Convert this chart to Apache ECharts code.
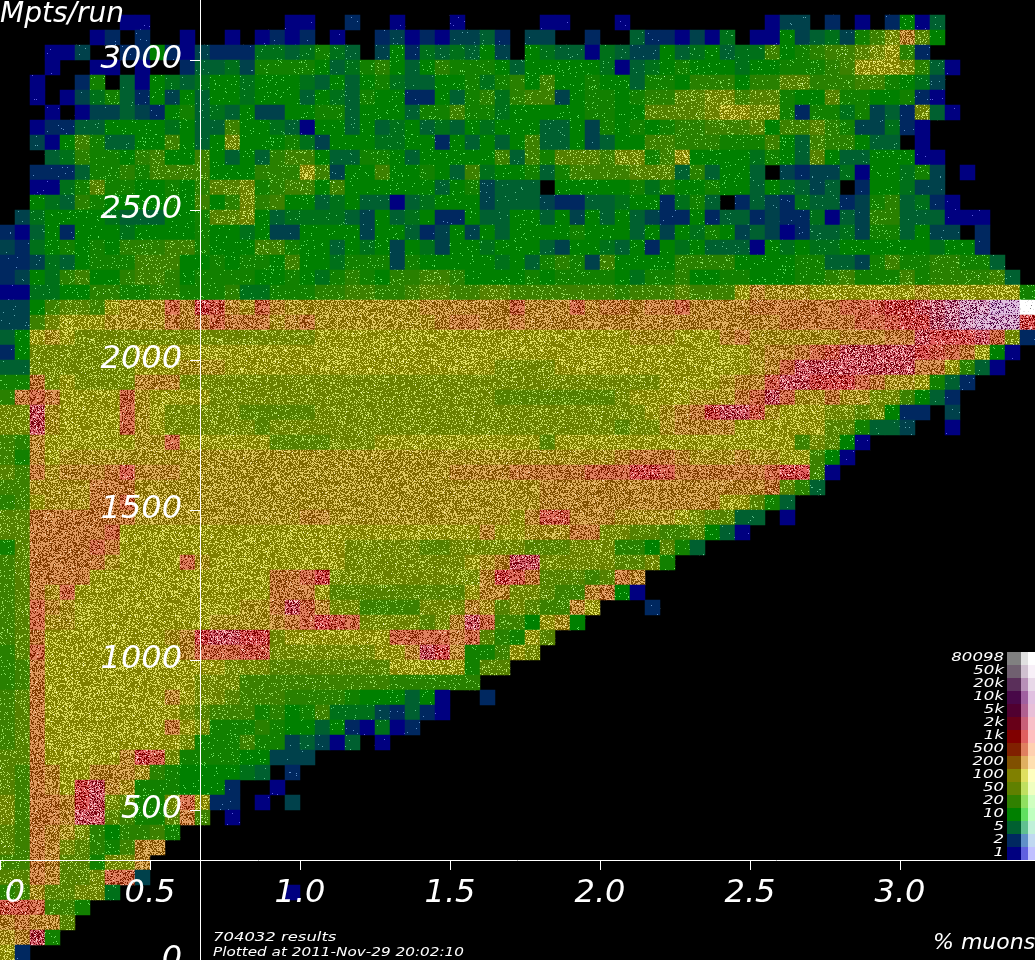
<!DOCTYPE html>
<html>
<head>
<meta charset="utf-8">
<title>Mpts/run vs % muons</title>
<style>
html,body{margin:0;padding:0;background:#000;}
#main{width:1035px;height:960px;}
</style>
<script src="https://cdn.jsdelivr.net/npm/echarts@6/dist/echarts.min.js"></script>
</head>
<body>
<div id="main"></div>
<script>
// one string per row (top row first), one char per 15px bin, '.' = no results
const cellRows = [
'.......... .......... .......... .......... .......... .......... .......... 1',
'........11 .........1 1..3..1... 1.....11.. .1........ .144.3.1.3 715',
'......13.3 ..1..1.131 3.1..34131 4453.44..3 ..5331416. 11745648ac fb7',
'...114..33 7314333665 6865.47365 6574.76551 6544756756 6a789aabcd 93',
'...1..11.1 ..35564888 8756897579 8887577777 6156787776 778889addd c951',
'..1..38.51 7656776777 6575786557 786897a778 7758879997 99bb999aa8 764',
'..1.146853 7475776777 5765877337 58969aa478 87899bbcca bb877b8877 831',
'...1.14454 3785657447 7885777588 a886777778 877bbbbcdd cc83886845 3c51',
'..13355777 76755a7765 1775756756 5767775574 8787899aaa b7aab98446 31',
'..417a8557 7a757c7778 6477766773 75757a5574 577aa99988 8a75a99755 .1',
'...5698879 a77a75759a a755887577 777a5a8bbb acc8ad7777 6875b75577 711',
'..33358898 aaaa777999 da477a7787 5a677858aa aabbb59577 5.43446177 684.1',
'..1168b887 7879bbc89a a7a7777775 784555.777 7786877877 576545.377 644',
'..76598777 787a79c9a7 7567551567 7745554335 56773685.3 5436553489 5631',
'.467777655 5778bbc756 6665475673 3755775747 5754337355 3433615499 555111',
'3157377767 7778776744 7777477534 7475777787 7757476874 5413556488 5744.3',
'4367878799 9aa8777aa8 7757674764 7767775477 6573767555 1767667777 776773',
'334657888a aa7787887a 7768884877 7776758984 a777799997 777885548a 8899885',
'34769a779a a978888778 76898799aa 9777787888 8768897788 777889a888 a89999a5',
'1166779988 9988896688 899aa99abb aabbaaaaaa a9aaabaaad feeedddddd dedddddd8',
'447abbadee ehfjifehfe eeeeeeeeff ffffhfffhf ggfgghffff gggggghhij jklmnnppv',
'44acdddeee egfghgggef geeeeeeeef ggffgfffff ffffffffff ffggggghhi jjlmnoooj',
'57dedccccc cccccccccc cddddddddd dddddddddd ddeeedddfg eeeeeefffg gkjjjkhc3',
'37cccccccd dddddddddd dddddddddd dddddddddd dddddddddd effghikkkk kjihgd71',
'55cccccccd ddeeeddddd dddddddddd dddccccddd dddddddddd efhkkkkkkk kggd951',
'88gcdccccf ffcccccccc cccccccccc cccccccccc ccccddddef fikkjjjhge ed853',
'9ghgddddhe ddddcccccc cccccccccc cccbbbbbbb bcddddeeeg hkheegeecc a753',
'cckeddddhe dcccccbbbb bccccccccc cccccccccc cccdefgjkk iedddccbc7 33.4',
'cckeddddhe dccccccbcc cccccccccc cccccccccc cbcceffffd dddddbb855 4..1',
'a9fdddddde ehddddddbb bbcccddddd ddddddbddd dddddddddd dddacb71',
'a8fdeeeeee eeeeeeeeee eeeeeeeeee eeeeeeeeee efgggfeeef eedda71',
'bagefffgif ffeeeeeeee eeeeeeeeee ffffgggggh hhjjiggggg ghjja1',
'aaeeeeggge eeeeeeeeee eeeeeeeeee eeeeeeffff ffffffffff fgb95',
'9adeeegghe eeeeeeeeee eeeeeeeeee eeeeeeffff ffffffffdd b85',
'bbggggggge eeeeeeeeee ffeeeeeeee eeeedfiiff feeeedcbb5 5.1',
'bbggggghdd dddddddddd dddddddddd ddfddeeegg ccbbaab751',
'8bgggghgdd dddddddddd dddcccccbb cccccbbbcc c997b85',
'abgggggedd ddhedddddd dddccccccc cdefkkcccc cbbc8',
'abggggdddd ddddddddgg hjcccccccc ccfjigbbba bgf',
'abgehddddd ddddddddgg gdbbbbbbbb bdffccbaaf g71',
'abhfeddddd ddddddeegk hfccaaaacc cfebcbaafd ...3',
'abheeddddd ddddeeeefg hjihccccbc fkhaa7de7',
'abgddddddd defjkkjjcd ddddddhhhh ghb98db',
'9bhddddddd ddfhhhiicc cccccddfkj f88adc',
'9agddddddd dddddcccbb bbbbbbdddd d8bb',
'9agddddddd dddcccaaaa aaaaaa9999 99',
'abgddddddd dfdccbaaa9 9998777571 ..3',
'abgddddddd ddcbaaa897 8a66643531',
'abgddddddd dgdc888987 75731613',
'abgddddddd ddc888a884 5415.1',
'bbgdddddfj ic88887744 4',
'bagfddfffe 98777765.3',
'bagfdjkfe8 887773..1',
'caggfjkcb8 8chd33.1.4',
'caggfkkba8 8bga.1',
'bagfec9799 a8',
'bagfcb98af f',
'aagfbb8ccf',
'bbgfbbchh4',
'9aebbcc6.. .........1',
'iihaa8',
'fgffb',
'efk8',
'd3'
];

// what each char in cellRows stands for (results per bin)
const cellCounts = {
  1:1, 2:1.5, 3:2, 4:3, 5:5, 6:7, 7:10, 8:13, 9:18, a:25, b:40, c:62, d:100, e:140,
  f:200, g:300, h:500, i:700, j:1000, k:1400, l:2000, m:3000, n:5000, o:7000, p:10000,
  q:14000, r:20000, s:30000, t:50000, u:65000, v:80098
};

const levelCounts = [1,2,5,10,20,50,100,200,500,1000,2000,5000,10000,20000,50000,80098];
const levelLabels = ['1','2','5','10','20','50','100','200','500','1k','2k','5k','10k','20k','50k','80098'];
const levelDark = ['#000080','#002860','#006030','#008000','#308000','#608000','#808000','#805000','#802000','#800000','#680018','#500030','#480848','#5a2f5a','#706070','#808080'];
const levelMid = ['#6060e0','#6090c8','#60c090','#60e060','#90e060','#c0e060','#e0e060','#e0b060','#e08060','#e06060','#c86078','#b06090','#a060a0','#b890b8','#d0c0d0','#e0e0e0'];
const levelLight = ['#c0c0ff','#c0d8f0','#c0f0d8','#c0ffc0','#d0ffc0','#f0ffc0','#ffffc0','#ffe0b0','#ffd0b0','#ffc0c0','#f8c0c8','#e8c0d8','#e0c0e0','#e8d8e8','#f8f0f8','#ffffff'];

const xTickValues = [0,0.5,1,1.5,2,2.5,3];
const xLabelValues = [0.05,0.5,1,1.5,2,2.5,3];
const xLabelTexts = ['0','0.5','1.0','1.5','2.0','2.5','3.0'];
const yTickValues = [0,500,1000,1500,2000,2500,3000];

// share of pixels in a bin lit in the mid / light shade, per level
const midShare = [.003,.006,.012,.025,.06,.15,.3,.5,.65,.55,.4,.25,.2,.15,.1,.05];
const lightShare = [0,0,0,0,.001,.003,.006,.01,.02,.1,.28,.55,.65,.75,.85,.93];

function hexRgb(h){
  return [parseInt(h.substr(1,2),16),parseInt(h.substr(3,2),16),parseInt(h.substr(5,2),16)];
}
function mix(a,b,t){ return a+(b-a)*t; }
function mixRgb(a,b,t){
  a=hexRgb(a); b=hexRgb(b);
  return [mix(a[0],b[0],t),mix(a[1],b[1],t),mix(a[2],b[2],t)];
}
function levelPos(count){
  let i=0;
  while(i<levelCounts.length-2 && count>=levelCounts[i+1]) i++;
  let t=Math.log(count/levelCounts[i])/Math.log(levelCounts[i+1]/levelCounts[i]);
  return {i:i,t:Math.min(1,t)};
}
// speckled tile for one count, seeded so it is the same every run
function makeTile(count,seed){
  const size=128, cv=document.createElement('canvas');
  cv.width=cv.height=size;
  const c=cv.getContext('2d'), img=c.createImageData(size,size);
  const p=levelPos(count);
  const dark=mixRgb(levelDark[p.i],levelDark[p.i+1],p.t);
  const midc=mixRgb(levelMid[p.i],levelMid[p.i+1],p.t);
  const light=mixRgb(levelLight[p.i],levelLight[p.i+1],p.t);
  const ms=mix(midShare[p.i],midShare[p.i+1],p.t), ls=mix(lightShare[p.i],lightShare[p.i+1],p.t);
  let s=seed*7919+13;
  for(let k=0;k<size*size;k++){
    s=(s*1664525+1013904223)>>>0;
    const r=(s>>>8)/16777216;
    const col=r<ls?light:(r<ls+ms?midc:dark);
    img.data[k*4]=col[0]; img.data[k*4+1]=col[1]; img.data[k*4+2]=col[2]; img.data[k*4+3]=255;
  }
  c.putImageData(img,0,0);
  return cv;
}

const fills = {};
Object.keys(cellCounts).forEach(function(ch,n){
  fills[ch]={image:makeTile(cellCounts[ch],n+1),repeat:'repeat'};
});

const xBins=[], yBins=[], cells=[];
for(let i=0;i<69;i++) xBins.push(((i+0.5)/20*1).toFixed(3));
for(let i=0;i<64;i++) yBins.push(String(3200-(i+0.5)*50));
cellRows.forEach(function(row,r){
  row.replace(/ /g,'').split('').forEach(function(ch,c){
    if(ch==='.') return;
    cells.push({value:[c,r,cellCounts[ch]],itemStyle:{color:fills[ch]}});
  });
});

// colour legend and captions
const graphics=[];
const font='italic 12px "DejaVu Sans"';
for(let i=0;i<16;i++){
  const lv=15-i, y=652+13*i;
  graphics.push({type:'rect',shape:{x:1007,y:y,width:14,height:13},style:{fill:levelDark[lv]},z:20});
  graphics.push({type:'rect',shape:{x:1021,y:y,width:7,height:13},style:{fill:levelMid[lv]},z:20});
  graphics.push({type:'rect',shape:{x:1028,y:y,width:7,height:13},style:{fill:levelLight[lv]},z:20});
  graphics.push({type:'text',x:1004,y:y+6,scaleX:1.38,z:20,
    style:{text:levelLabels[lv],font:font,fill:'#fff',textAlign:'right',textVerticalAlign:'middle'}});
}
graphics.push({type:'text',x:0,y:1,z:20,style:{text:'Mpts/run',font:'italic 28px "DejaVu Sans"',fill:'#fff'}});
graphics.push({type:'text',x:933,y:932,z:20,style:{text:'% muons',font:'italic 22px "DejaVu Sans"',fill:'#fff'}});
graphics.push({type:'text',x:213,y:932,scaleX:1.37,z:20,style:{text:'704032 results',font:font,fill:'#fff'}});
graphics.push({type:'text',x:213,y:947,scaleX:1.27,z:20,style:{text:'Plotted at 2011-Nov-29 20:02:10',font:font,fill:'#fff'}});

const labelStyle={color:'#fff',fontFamily:'DejaVu Sans',fontStyle:'italic',fontSize:32};

const chart=echarts.init(document.getElementById('main'),null,{renderer:'canvas'});
chart.setOption({
  animation:false,
  backgroundColor:'#000',
  tooltip:{show:false},
  grid:{left:0,right:0,top:0,bottom:0,containLabel:false,outerBoundsMode:'none'},
  xAxis:[
    {type:'category',data:xBins,show:false},
    {type:'value',min:0,max:3.45,position:'bottom',offset:-100,z:10,splitLine:{show:false},
     axisLine:{show:true,lineStyle:{color:'#fff',width:1}},
     axisTick:{show:true,length:10,customValues:xTickValues,lineStyle:{color:'#fff',width:1}},
     axisLabel:Object.assign({show:true,margin:18,customValues:xLabelValues,
       formatter:function(v){ return xLabelTexts[xLabelValues.indexOf(v)]; }},labelStyle)}
  ],
  yAxis:[
    {type:'category',data:yBins,inverse:true,show:false},
    {type:'value',min:0,max:3200,position:'left',offset:-200,z:10,splitLine:{show:false},
     axisLine:{show:true,lineStyle:{color:'#fff',width:1}},
     axisTick:{show:true,length:10,customValues:yTickValues,lineStyle:{color:'#fff',width:1}},
     axisLabel:Object.assign({show:true,margin:18,customValues:yTickValues,
       formatter:function(v){ return String(v); }},labelStyle)}
  ],
  series:[{
    type:'heatmap',
    xAxisIndex:0,
    yAxisIndex:0,
    data:cells,
    silent:true,
    progressive:0,
    itemStyle:{borderWidth:0},
    emphasis:{disabled:true}
  }],
  graphic:{elements:graphics}
});
</script>
</body>
</html>
